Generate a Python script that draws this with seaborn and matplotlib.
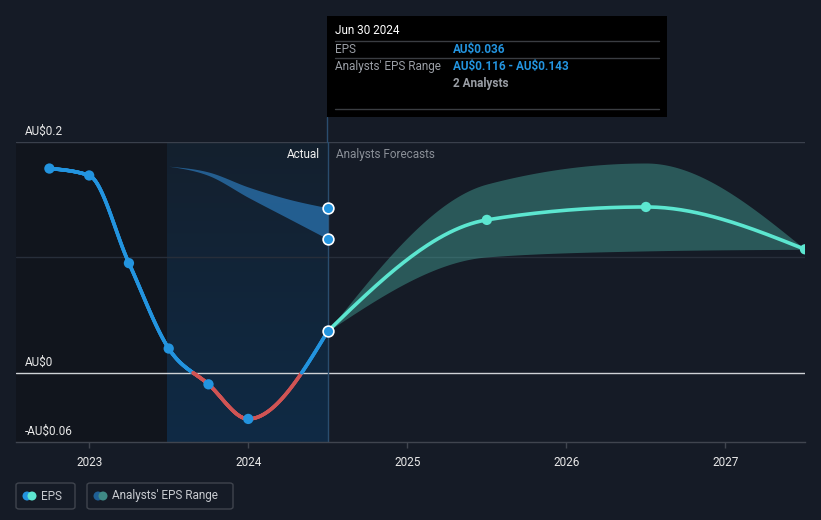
import numpy as np
import pandas as pd
import seaborn as sns
import matplotlib.pyplot as plt
from matplotlib.collections import LineCollection
from matplotlib.colors import LinearSegmentedColormap
from matplotlib.patches import FancyBboxPatch, Ellipse
import matplotlib.transforms as mtransforms

# data (decimal years)
eps_x = [2022.75, 2023.0, 2023.25, 2023.5, 2023.75, 2024.0, 2024.5]
eps_y = [0.177, 0.171, 0.095, 0.021, -0.010, -0.040, 0.036]

past_rng_x = [2023.5, 2023.75, 2024.0, 2024.25, 2024.5]
past_rng_hi = [0.179, 0.174, 0.161, 0.1506, 0.143]
past_rng_lo = [0.179, 0.171, 0.152, 0.134, 0.116]

fc_x = [2024.5, 2025.5, 2026.5, 2027.5]
fc_y = [0.036, 0.1325, 0.1437, 0.107]
fc_hi = [0.036, 0.1636, 0.1818, 0.107]
fc_lo = [0.036, 0.1004, 0.1056, 0.107]

years = [2023, 2024, 2025, 2026, 2027]
ytick_vals = [0.2, 0.0, -0.06]
ytick_labels = [r'AU\$0.2', r'AU\$0', r'-AU\$0.06']

BG = '#151b26'
BLUE = '#2394df'
RED = '#d05454'
TEAL = '#5ce6d0'


def monotone(x, y, n=60):
    # monotone cubic curve through the points (like d3 curveMonotoneX)
    x = np.asarray(x, float)
    y = np.asarray(y, float)
    h = np.diff(x)
    s = np.diff(y) / h
    m = np.zeros_like(y)
    for i in range(1, len(x) - 1):
        p = (s[i - 1] * h[i] + s[i] * h[i - 1]) / (h[i - 1] + h[i])
        m[i] = (np.sign(s[i - 1]) + np.sign(s[i])) * min(abs(s[i - 1]), abs(s[i]), 0.5 * abs(p))
    m[0] = (3 * s[0] - m[1]) / 2 if len(x) > 2 else s[0]
    m[-1] = (3 * s[-1] - m[-2]) / 2 if len(x) > 2 else s[-1]
    xs, ys = [], []
    for i in range(len(x) - 1):
        t = np.linspace(0, 1, n)
        h00 = 2 * t**3 - 3 * t**2 + 1
        h10 = t**3 - 2 * t**2 + t
        h01 = -2 * t**3 + 3 * t**2
        h11 = t**3 - t**2
        xs.append(x[i] + t * h[i])
        ys.append(h00 * y[i] + h10 * h[i] * m[i] + h01 * y[i + 1] + h11 * h[i] * m[i + 1])
    return np.concatenate(xs), np.concatenate(ys)


sns.set_theme(style='dark')
plt.rcParams['font.family'] = ['Roboto', 'DejaVu Sans']

fig = plt.figure(figsize=(8.21, 5.2), dpi=100, facecolor=BG)
ax = fig.add_axes([16 / 821, 78 / 520, 789 / 821, 300 / 520])
ax.set_facecolor(BG)

# shaded regions
ax.axvspan(2022.54, 2023.49, color='#11151d', zorder=0, lw=0)
grad = LinearSegmentedColormap.from_list('g', ['#14202e', '#0f2a45'])
ax.imshow(np.linspace(0, 1, 100).reshape(-1, 1), cmap=grad, aspect='auto',
          extent=[2023.49, 2024.5, -0.06, 0.2], origin='upper', zorder=0.5)
ax.set_xlim(2022.54, 2027.5)
ax.set_ylim(-0.06, 0.2)

# grid lines
ax.axhline(0.2, color='#3a404c', lw=1, zorder=1)
ax.axhline(0.1, color='#272e3a', lw=1, zorder=1)
ax.axhline(0.0, color='#cfd2d6', lw=1, zorder=2)
ax.axvline(2024.5, color='#2a4d6e', lw=1, zorder=2)

# past analyst range band
bx, bhi = monotone(past_rng_x, past_rng_hi)
_, blo = monotone(past_rng_x, past_rng_lo)
ax.fill_between(bx, blo, bhi, color='#2a73b0', alpha=0.75, lw=0, zorder=3)

# forecast band
fx, fhi = monotone(fc_x, fc_hi)
_, flo = monotone(fc_x, fc_lo)
ax.fill_between(fx, flo, fhi, color=TEAL, alpha=0.3, lw=0, zorder=3)

# actual EPS line, red where below zero
ex, ey = monotone(eps_x, eps_y, n=120)
pts = np.column_stack([ex, ey]).reshape(-1, 1, 2)
segs = np.concatenate([pts[:-1], pts[1:]], axis=1)
cols = [RED if (a[1] + b[1]) / 2 < 0 else BLUE for a, b in zip(pts[:-1, 0], pts[1:, 0])]
ax.add_collection(LineCollection(segs, colors=cols, lw=2.6, capstyle='round', zorder=4))

# forecast line
fcx, fcy = monotone(fc_x, fc_y)
sns.lineplot(x=fcx, y=fcy, ax=ax, color=TEAL, lw=2.6, sort=False, zorder=4)

# markers
past = pd.DataFrame({'x': eps_x[:-1], 'y': eps_y[:-1]})
sns.scatterplot(data=past, x='x', y='y', ax=ax, color=BLUE, s=55, edgecolor='none', zorder=5)
sns.scatterplot(x=fc_x[1:], y=fc_y[1:], ax=ax, color=TEAL, s=55, edgecolor='none', zorder=5)
sns.scatterplot(x=[2024.5] * 3, y=[eps_y[-1], past_rng_hi[-1], past_rng_lo[-1]], ax=ax,
                color=BLUE, s=60, edgecolor='white', linewidth=1.2, zorder=6)

# axes styling
for sp in ['top', 'right', 'left']:
    ax.spines[sp].set_visible(False)
ax.spines['bottom'].set_color('#40454f')
ax.spines['bottom'].set_linewidth(1)
ax.set_xticks(years)
ax.set_xticklabels([str(y) for y in years])
ax.tick_params(axis='x', colors='#40454f', length=4, width=1, bottom=True, labelcolor='#e8e8e8',
               labelsize=8.5, pad=6)
ax.set_yticks([])
ax.set_xlabel('')
ax.set_ylabel('')
ax.grid(False)

trans = mtransforms.blended_transform_factory(fig.transFigure, ax.transData)
for v, lab in zip(ytick_vals, ytick_labels):
    ax.text(25 / 821, v + 0.0036, lab, transform=trans, color='#e8e8e8', fontsize=8.5,
            va='bottom', ha='left', zorder=7)

ax.text(2024.45, 0.195, 'Actual', color='#f0f0f0', fontsize=8.5, ha='right', va='top', zorder=7)
ax.text(2024.55, 0.195, 'Analysts Forecasts', color='#8a8f97', fontsize=8.5, ha='left', va='top', zorder=7)


# tooltip box
def fx_(px):
    return px / 821


def fy_(py):
    return 1 - py / 520


fig.patches.append(FancyBboxPatch((fx_(327), fy_(117)), fx_(667) - fx_(327), fy_(16) - fy_(117),
                                  boxstyle='square,pad=0', fc='#000000', ec='none',
                                  transform=fig.transFigure, zorder=10))
fig.add_artist(plt.Line2D([fx_(327), fx_(327)], [fy_(117), fy_(142)], color='#2a4d6e', lw=1))
fig.text(fx_(335), fy_(31), 'Jun 30 2024', color='white', fontsize=8.5, va='center', zorder=11)
for py in [41, 58, 109]:
    fig.add_artist(plt.Line2D([fx_(335), fx_(659)], [fy_(py), fy_(py)], color='#3a3d42', lw=1, zorder=11))
fig.text(fx_(335), fy_(49.5), 'EPS', color='#9a9ea5', fontsize=8.5, va='center', zorder=11)
fig.text(fx_(453), fy_(49.5), r'AU\$0.036', color=BLUE, fontsize=8.5, va='center', weight='bold', zorder=11)
fig.text(fx_(335), fy_(66.5), "Analysts' EPS Range", color='#9a9ea5', fontsize=8.5, va='center', zorder=11)
fig.text(fx_(453), fy_(66.5), r'AU\$0.116 - AU\$0.143', color=BLUE, fontsize=8.5, va='center',
         weight='bold', zorder=11)
fig.text(fx_(453), fy_(83.5), '2 Analysts', color='#9a9ea5', fontsize=8.5, va='center', weight='bold', zorder=11)

# legend boxes
for x0, x1, lab, c1, c2 in [(16, 75, 'EPS', BLUE, TEAL),
                            (87, 233, "Analysts' EPS Range", '#1f5f95', '#3f8a86')]:
    fig.patches.append(FancyBboxPatch((fx_(x0), fy_(509)), fx_(x1) - fx_(x0), fy_(483) - fy_(509),
                                      boxstyle='round,pad=0,rounding_size=0.004', fc='none',
                                      ec='#3f444d', lw=1, transform=fig.transFigure))
    r = 4.5
    for dx, c in [(0, c1), (5, c2)]:
        fig.patches.append(Ellipse((fx_(x0 + 11 + dx), fy_(496)), 2 * r / 821, 2 * r / 520,
                                   fc=c, ec='none', transform=fig.transFigure))
    fig.text(fx_(x0 + 25), fy_(496), lab, color='#c8cbd0', fontsize=8.5, va='center')

fig.savefig('out.png', dpi=100, facecolor=BG)
